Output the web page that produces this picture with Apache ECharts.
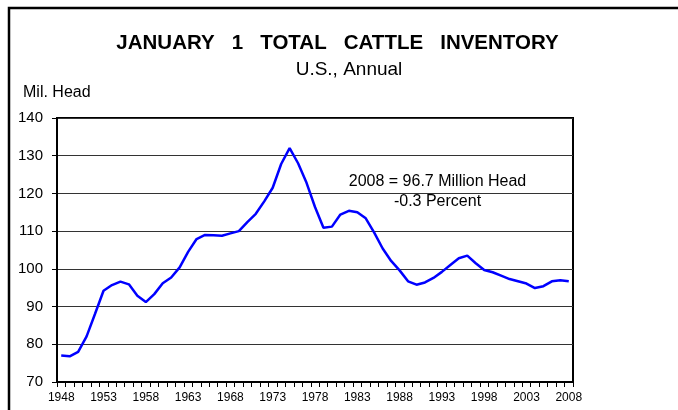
<!DOCTYPE html>
<html><head><meta charset="utf-8">
<script src="https://cdn.jsdelivr.net/npm/echarts@6/dist/echarts.min.js"></script>
<style>html,body{margin:0;padding:0;background:#fff}#c{width:678px;height:410px}</style>
</head><body><div id="c"></div>
<script>
const years = [];
for (let y = 1948; y <= 2008; y++) years.push(String(y));
const inventory = [77.0,76.8,78.0,82.1,88.1,94.2,95.7,96.6,95.9,92.9,91.2,93.3,96.2,97.7,100.4,104.5,107.9,109.0,108.9,108.8,109.4,110.0,112.4,114.6,117.9,121.5,127.8,132.0,128.0,122.8,116.4,110.9,111.2,114.4,115.4,115.0,113.4,109.6,105.4,102.1,99.6,96.7,95.8,96.4,97.6,99.2,101.0,102.8,103.5,101.5,99.7,99.1,98.2,97.3,96.7,96.1,94.9,95.4,96.7,97.0,96.7];
const titleText = 'JANUARY   1   TOTAL   CATTLE   INVENTORY';
const subtitleText = 'U.S., Annual';
const unitText = 'Mil. Head';
const noteLines = ['2008 = 96.7 Million Head', '-0.3 Percent'];

const chart = echarts.init(document.getElementById('c'), null, {renderer: 'canvas'});
const F = 'Liberation Sans, Arial, sans-serif';
chart.setOption({
  animation: false,
  grid: {left: 57, right: 105, top: 118, bottom: 28, show: true, borderColor: '#000', borderWidth: 2, backgroundColor: 'transparent'},
  xAxis: {
    type: 'category', data: years, boundaryGap: true,
    axisLine: {show: true, lineStyle: {color: '#000', width: 2}},
    axisTick: {show: true, interval: 0, length: 5, lineStyle: {color: '#000'}},
    axisLabel: {interval: 4, fontFamily: F, fontSize: 12, color: '#000', margin: 10},
    splitLine: {show: false}
  },
  yAxis: {
    type: 'value', min: 70, max: 140, interval: 10,
    axisLine: {show: true, lineStyle: {color: '#000', width: 2}},
    axisTick: {show: true, length: 5, lineStyle: {color: '#000'}},
    axisLabel: {fontFamily: F, fontSize: 15, color: '#000', margin: 14},
    splitLine: {show: true, lineStyle: {color: '#333', width: 1}}
  },
  series: [{
    type: 'line', data: inventory, showSymbol: false, symbol: 'none',
    lineStyle: {color: '#0000FF', width: 2.5}, smooth: false
  }],
  graphic: [
    {type: 'polyline', shape: {points: [[9, 420], [9, 8], [678, 8]]}, style: {fill: 'none', stroke: '#000', lineWidth: 2.5}, silent: true},
    {type: 'text', x: 337.5, y: 43, style: {text: titleText, font: 'bold 20.5px ' + F, fill: '#000', textAlign: 'center', textVerticalAlign: 'middle'}},
    {type: 'text', x: 349, y: 70, style: {text: subtitleText, font: '19px ' + F, fill: '#000', textAlign: 'center', textVerticalAlign: 'middle'}},
    {type: 'text', x: 23, y: 93, style: {text: unitText, font: '16px ' + F, fill: '#000', textAlign: 'left', textVerticalAlign: 'middle'}},
    {type: 'text', x: 437.5, y: 181.5, style: {text: noteLines[0], font: '16px ' + F, fill: '#000', textAlign: 'center', textVerticalAlign: 'middle'}},
    {type: 'text', x: 437.5, y: 201.5, style: {text: noteLines[1], font: '16px ' + F, fill: '#000', textAlign: 'center', textVerticalAlign: 'middle'}}
  ]
});
</script></body></html>
